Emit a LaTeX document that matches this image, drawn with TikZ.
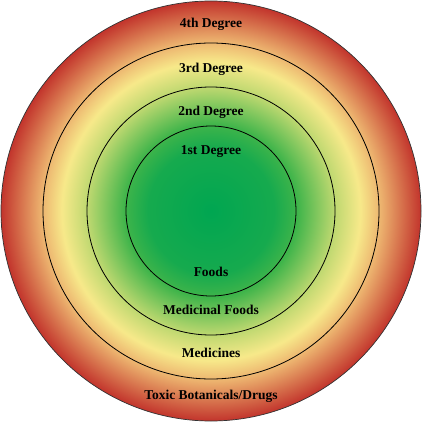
\documentclass[tikz,border=0pt]{standalone}
\usepackage{fontspec}
\setmainfont{Liberation Serif}
\definecolor{kern}{RGB}{0, 166, 81}
\definecolor{gruen}{RGB}{22, 170, 78}
\definecolor{hellgruen}{RGB}{62, 180, 74}
\definecolor{gelbgruen}{RGB}{190, 216, 112}
\definecolor{gelb}{RGB}{247, 233, 138}
\definecolor{orange}{RGB}{236, 178, 110}
\definecolor{rot}{RGB}{194, 52, 44}
\pgfdeclareradialshading{grade}{\pgfpointorigin}{color(0bp)=(kern); color(7.5bp)=(gruen); color(10.25bp)=(hellgruen); color(14.75bp)=(gelbgruen); color(17.75bp)=(gelb); color(20.25bp)=(orange); color(25bp)=(rot); color(50bp)=(rot)}

\begin{document}
\begin{tikzpicture}[x=1pt, y=-1pt, font=\fontsize{13.5}{15}\selectfont\bfseries]

    \useasboundingbox (0,0) rectangle (422,422);
    \shade[shading=grade, draw=black!80, line width=0.7pt] (211,211) circle (210);

				\foreach \r in {168,124,85}{
					\draw[black, line width=0.8pt] (211,211) circle (\r);
			}
				\foreach \n/\y/\t in {a/27.5/4th Degree, b/73/3rd Degree, c/116/2nd Degree, d/154/1st Degree, e/276/Foods, f/314/Medicinal Foods, g/357/Medicines, h/399/{Toxic Botanicals/Drugs}}{
					\node[anchor=base, inner sep=0pt] (L\n) at (211,\y) {\t};
			}

\end{tikzpicture}
\end{document}
